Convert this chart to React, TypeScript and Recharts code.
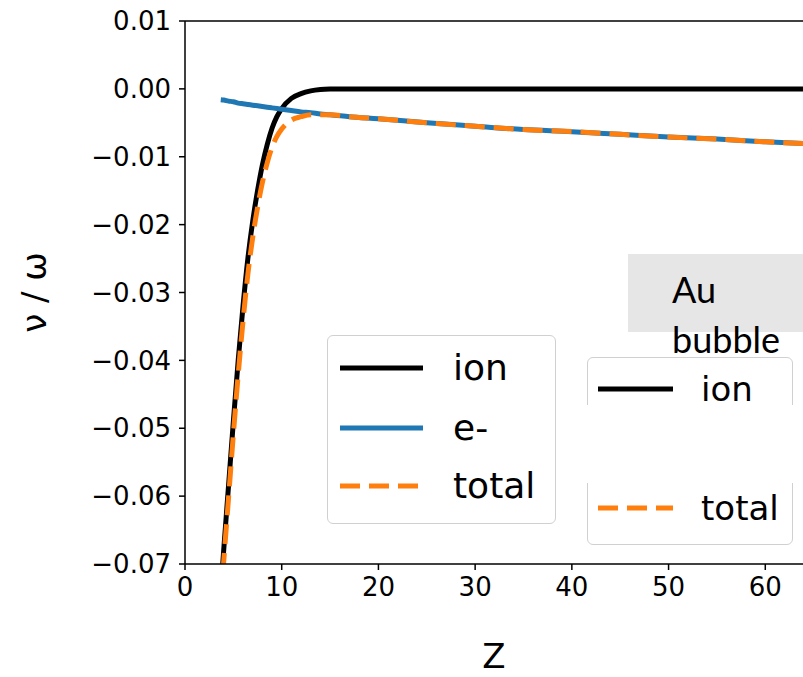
import React from 'react';
import { LineChart, Line, XAxis, YAxis, Legend, ReferenceLine } from 'recharts';

// values
const zValues = [3.7, 4, 4.5, 5, 5.5, 6, 6.5, 7, 7.5, 8, 8.5, 9, 9.5, 10, 11, 12, 13, 14, 15, 17, 20, 25, 30, 35, 40, 45, 50, 55, 60, 65];
const ionValues = [-0.074, -0.068, -0.0585, -0.049, -0.04, -0.032, -0.025, -0.0195, -0.015, -0.0112, -0.0082, -0.0058, -0.0041, -0.0029, -0.0014, -0.0007, -0.0003, -0.0001, -0.00003, 0, 0, 0, 0, 0, 0, 0, 0, 0, 0, 0];
const electronValues = [-0.0016, -0.00165, -0.0018, -0.0019, -0.0021, -0.0022, -0.0023, -0.0024, -0.0025, -0.0026, -0.0027, -0.0028, -0.0029, -0.003, -0.0032, -0.0034, -0.0035, -0.0037, -0.0038, -0.0041, -0.0044, -0.005, -0.0055, -0.006, -0.0063, -0.0067, -0.0071, -0.0074, -0.0078, -0.0081];
const totalValues = [-0.0756, -0.0697, -0.0603, -0.0509, -0.0421, -0.0342, -0.0273, -0.0219, -0.0175, -0.0138, -0.0109, -0.0086, -0.007, -0.0059, -0.0046, -0.0041, -0.0038, -0.0038, -0.0038, -0.0041, -0.0044, -0.005, -0.0055, -0.006, -0.0063, -0.0067, -0.0071, -0.0074, -0.0078, -0.0081];

const xTicks = [0, 10, 20, 30, 40, 50, 60];
const yTicks = [0.01, 0, -0.01, -0.02, -0.03, -0.04, -0.05, -0.06, -0.07];

const series = [
  { key: 'ion', name: 'ion', color: '#000000', dash: undefined as string | undefined },
  { key: 'e', name: 'e-', color: '#1f77b4', dash: undefined as string | undefined },
  { key: 'total', name: 'total', color: '#ff7f0e', dash: '20 9' },
];

const data = zValues.map((z, i) => ({ z, ion: ionValues[i], e: electronValues[i], total: totalValues[i] }));

const FONT = '"DejaVu Sans", sans-serif';
const tickStyle = { fill: '#000', fontSize: 26, fontFamily: FONT };

const fmtY = (v: number) => v.toFixed(2).replace('-', '\u2212');

type Row = { name: string; color: string; dash?: string; y: number };

const LegendRow = ({ row, x0, x1, textX, fontSize }: { row: Row; x0: number; x1: number; textX: number; fontSize: number }) => (
  <>
    <svg style={{ position: 'absolute', left: x0, top: row.y - 4, overflow: 'visible' }} width={x1 - x0} height={8}>
      <line x1={0} y1={4} x2={x1 - x0} y2={4} stroke={row.color} strokeWidth={5} strokeDasharray={row.dash} />
    </svg>
    <div style={{ position: 'absolute', left: textX, top: row.y - 25, height: 50, lineHeight: '50px', fontSize, fontFamily: FONT, color: '#000', whiteSpace: 'nowrap' }}>
      {row.name}
    </div>
  </>
);

const boxStyle: React.CSSProperties = {
  position: 'absolute',
  boxSizing: 'border-box',
  border: '1.5px solid #d0d0d0',
  borderRadius: 6,
  background: 'rgba(255,255,255,0.85)',
};

const Legends = () => {
  const rows1: Row[] = series.map((s, i) => ({ name: s.name, color: s.color, dash: s.dash, y: [32, 92, 150][i] }));
  const ion = series[0];
  const total = series[2];
  const rows2: Row[] = [
    { name: ion.name, color: ion.color, y: 31 },
    { name: total.name, color: total.color, dash: total.dash, y: 150 },
  ];
  return (
    <div style={{ position: 'relative', width: 803, height: 677, pointerEvents: 'none' }}>
      <div style={{ ...boxStyle, left: 327, top: 335, width: 229, height: 189 }}>
        {rows1.map((r) => (
          <LegendRow key={r.name} row={r} x0={12} x1={95} textX={125} fontSize={36} />
        ))}
      </div>
      <div style={{ ...boxStyle, left: 587, top: 357, width: 206, height: 188 }}>
        {rows2.map((r) => (
          <LegendRow key={r.name} row={r} x0={10} x1={85} textX={113} fontSize={34} />
        ))}
      </div>
      <div style={{ position: 'absolute', left: 580, top: 405, width: 223, height: 78, background: '#fff' }} />
      <div style={{ position: 'absolute', left: 628, top: 254, width: 175, height: 78, background: '#e7e6e6' }} />
      <div style={{ position: 'absolute', left: 672, top: 264, fontFamily: 'Lato, sans-serif', fontSize: 36, lineHeight: '50px', color: '#000' }}>
        Au
        <br />
        bubble
      </div>
    </div>
  );
};

export default function App() {
  return (
    <div style={{ position: 'absolute', left: 0, top: 0, width: 803, height: 677, background: '#fff' }}>
      <LineChart width={803} height={677} data={data} margin={{ top: 21, right: 0, bottom: 0, left: 0 }}>
        <XAxis
          dataKey="z"
          type="number"
          domain={[0, 63.9]}
          ticks={xTicks}
          allowDataOverflow
          height={113}
          tickSize={6}
          tickMargin={8}
          tick={tickStyle}
          axisLine={{ stroke: '#000', strokeWidth: 1.5 }}
          tickLine={{ stroke: '#000', strokeWidth: 1.5 }}
          label={({ viewBox }: any) => (
            <text x={viewBox.x + viewBox.width / 2} y={viewBox.y + 104} textAnchor="middle" fontSize={34} fontFamily={FONT} fill="#000">
              Z
            </text>
          )}
        />
        <YAxis
          type="number"
          domain={[-0.07, 0.01]}
          ticks={yTicks}
          allowDataOverflow
          width={185}
          tickSize={6}
          tickMargin={8}
          tick={tickStyle}
          tickFormatter={fmtY}
          axisLine={{ stroke: '#000', strokeWidth: 1.5 }}
          tickLine={{ stroke: '#000', strokeWidth: 1.5 }}
          label={({ viewBox }: any) => {
            const cx = viewBox.x + 46;
            const cy = viewBox.y + viewBox.height / 2;
            return (
              <text x={cx} y={cy} transform={`rotate(-90 ${cx} ${cy})`} textAnchor="middle" fontSize={34} fontFamily={FONT} fill="#000">
                ν / ω
              </text>
            );
          }}
        />
        <ReferenceLine y={0.01} stroke="#000" strokeWidth={1.5} />
        {series.map((s) => (
          <Line
            key={s.key}
            type="monotone"
            dataKey={s.key}
            name={s.name}
            stroke={s.color}
            strokeWidth={5}
            strokeDasharray={s.dash}
            dot={false}
            activeDot={false}
            isAnimationActive={false}
          />
        ))}
        <Legend
          layout="horizontal"
          verticalAlign="middle"
          wrapperStyle={{ position: 'absolute', left: 0, top: 0, width: 803, height: 677 }}
          content={() => <Legends />}
        />
      </LineChart>
    </div>
  );
}
